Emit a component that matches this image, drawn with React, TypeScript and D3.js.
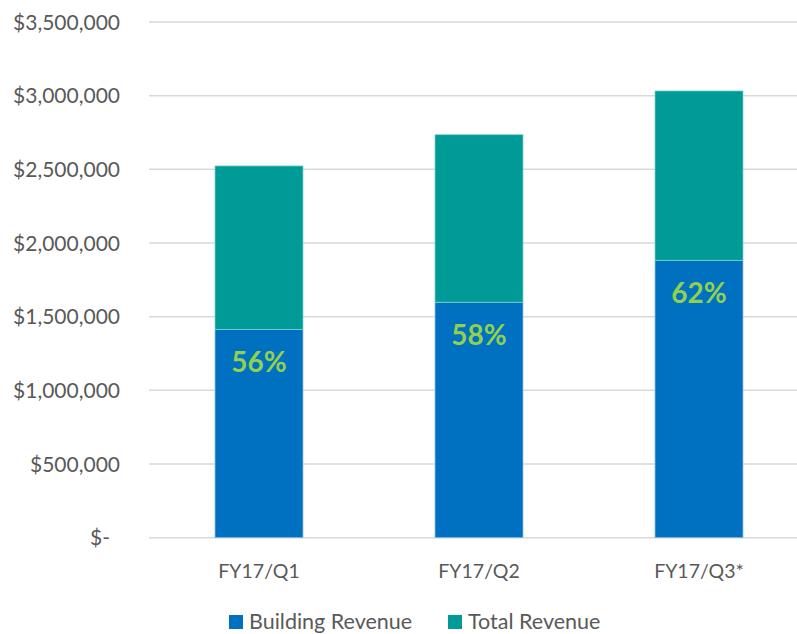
import React from "react";
import * as d3 from "d3";

const categories = ["FY17/Q1", "FY17/Q2", "FY17/Q3*"];
const buildingRevenue = [1414000, 1598000, 1883000];
const totalRevenue = [2523000, 2735000, 3032000];
const percentLabels = ["56%", "58%", "62%"];
const yTicks = [0, 500000, 1000000, 1500000, 2000000, 2500000, 3000000, 3500000];
const seriesNames = ["Building Revenue", "Total Revenue"];
const colors = ["#0070C0", "#009A97"];

const W = 797;
const H = 634;
const FONT = "Lato, 'Open Sans', sans-serif";

function fmt(v: number) {
  if (v === 0) return "$-";
  return "$" + d3.format(",")(v);
}

export default function App() {
  const x = d3.scaleBand<string>().domain(categories).range([149, 809]).paddingInner(0.6).paddingOuter(0.3);
  const y = d3.scaleLinear().domain([0, 3500000]).range([537.7, 22]);
  const bw = x.bandwidth();

  return (
    <svg width={W} height={H} style={{ position: "absolute", left: 0, top: 0, background: "#fff" }}>
      <rect width={W} height={H} fill="#fff" />
      {yTicks.map((t) => (
        <g key={t}>
          <line x1={149} x2={W} y1={y(t)} y2={y(t)} stroke="#D9D9D9" strokeWidth={1.5} />
          <text x={t === 0 ? 110 : 120} y={y(t) + 7.5} textAnchor="end" fontFamily={FONT} fontSize={21} fill="#595959">
            {fmt(t)}
          </text>
        </g>
      ))}
      {categories.map((c, i) => {
        const x0 = x(c) as number;
        return (
          <g key={c}>
            <rect x={x0} y={y(buildingRevenue[i])} width={bw} height={y(0) - y(buildingRevenue[i])} fill={colors[0]} stroke="#8FC3E6" strokeWidth={0.75} />
            <rect x={x0} y={y(totalRevenue[i])} width={bw} height={y(buildingRevenue[i]) - y(totalRevenue[i])} fill={colors[1]} stroke="#7FCFCB" strokeWidth={0.75} />
            <text x={x0 + bw / 2} y={y(buildingRevenue[i]) + 43} textAnchor="middle" fontFamily={FONT} fontWeight={700} fontSize={28} fill="#92D050">
              {percentLabels[i]}
            </text>
            <text x={x0 + bw / 2} y={578} textAnchor="middle" fontFamily={FONT} fontSize={19.5} fill="#595959">
              {c}
            </text>
          </g>
        );
      })}
      {seriesNames.map((s, i) => {
        const lx = [229, 448][i];
        return (
          <g key={s}>
            <rect x={lx} y={615} width={14} height={14} fill={colors[i]} />
            <text x={lx + 20} y={629} fontFamily={FONT} fontSize={21.5} fill="#595959">
              {s}
            </text>
          </g>
        );
      })}
    </svg>
  );
}
